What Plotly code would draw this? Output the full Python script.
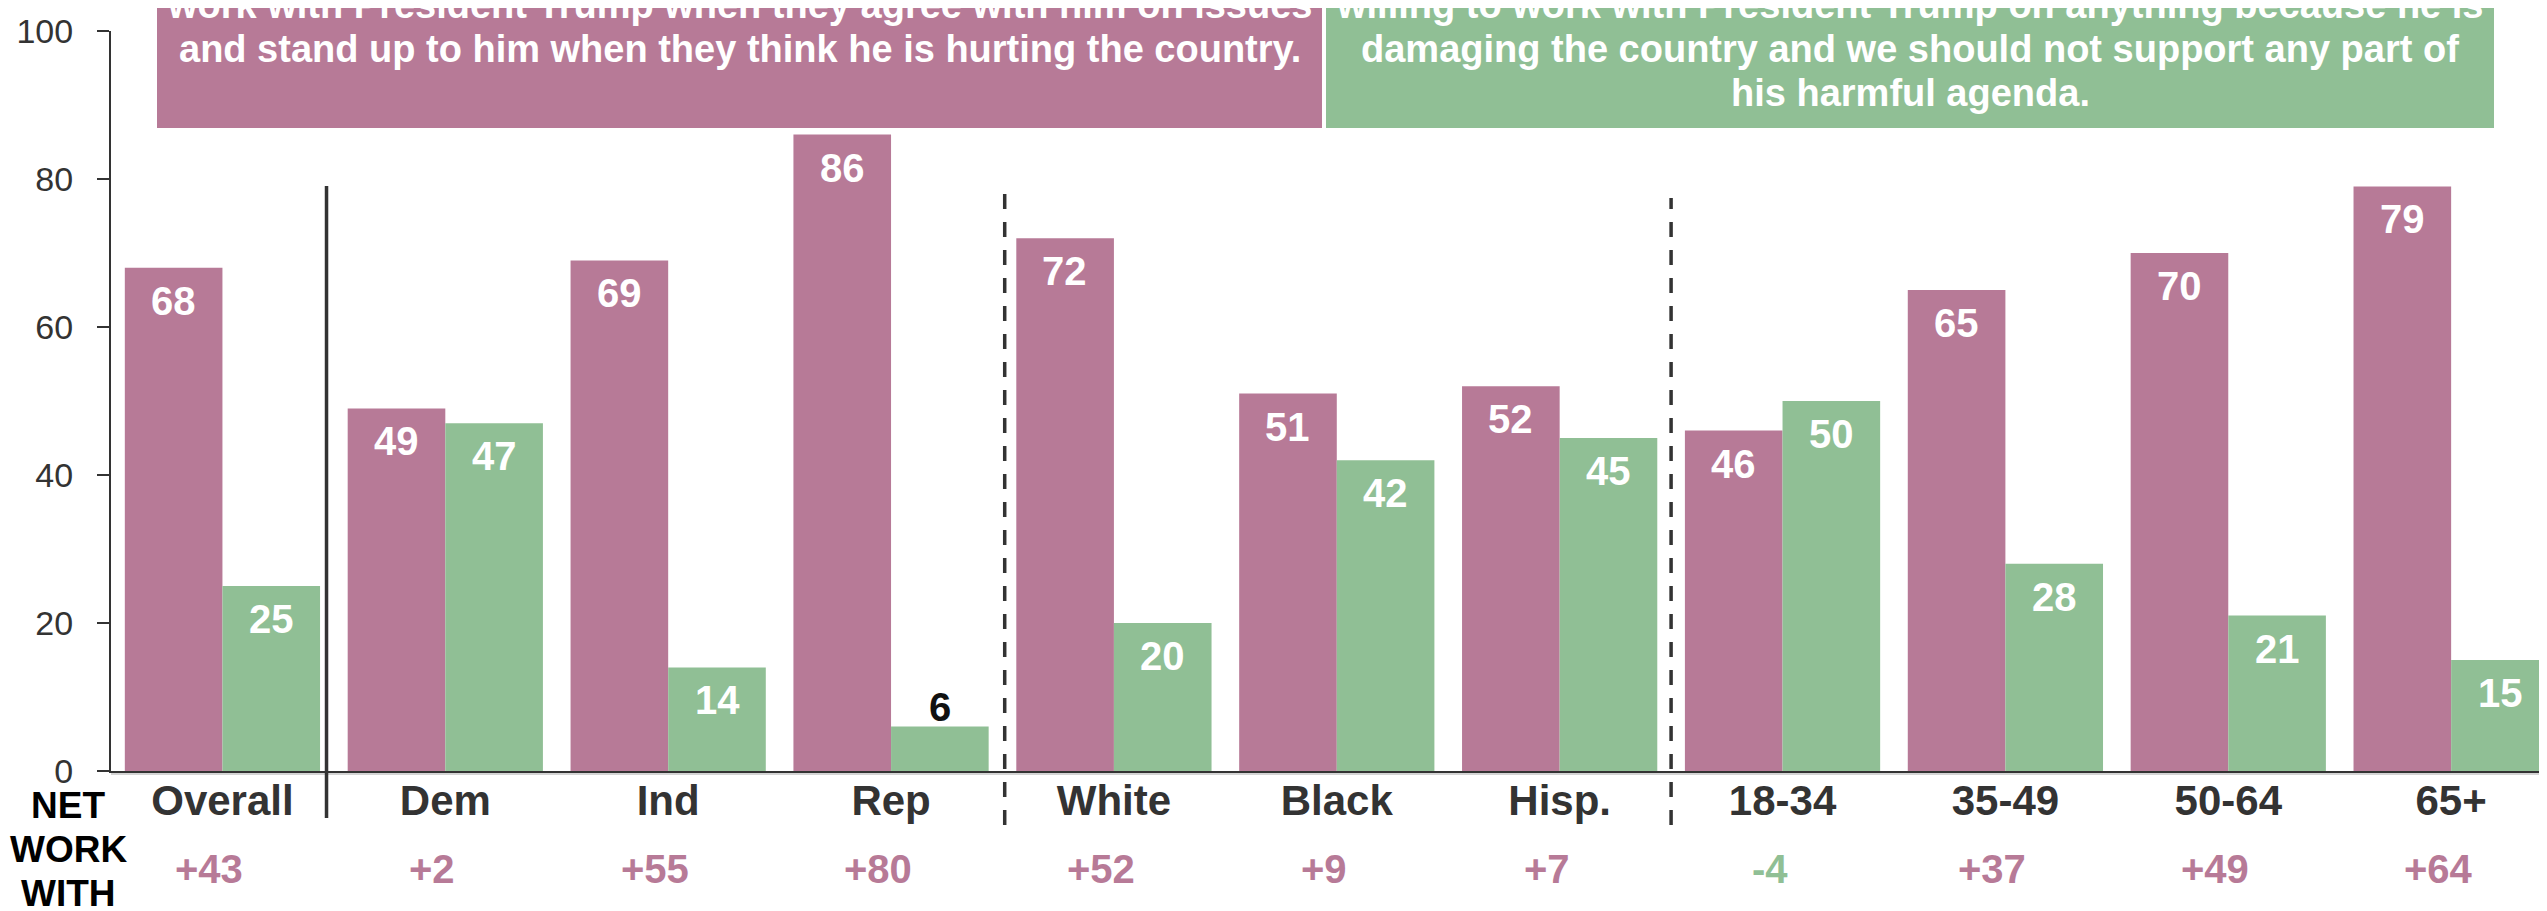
import plotly.graph_objects as go

# ── data ──
GROUPS = ["Overall", "Dem", "Ind", "Rep", "White", "Black", "Hisp.", "18-34", "35-49", "50-64", "65+"]
WORK_WITH = [68, 49, 69, 86, 72, 51, 52, 46, 65, 70, 79]
NOT_WORK = [25, 47, 14, 6, 20, 42, 45, 50, 28, 21, 15]
NET = [43, 2, 55, 80, 52, 9, 7, -4, 37, 49, 64]
Y_TICKS = [0, 20, 40, 60, 80, 100]
NET_LABEL = ["NET", "WORK", "WITH"]

TXT_WORK = ["work with President Trump when they agree with him on issues",
            "and stand up to him when they think he is hurting the country."]
TXT_NOT = ["willing to work with President Trump on anything because he is",
           "damaging the country and we should not support any part of",
           "his harmful agenda."]

# ── style ──
MAG = "#B77A97"; GRN = "#90BF95"; INK = "#333333"; BLACK = "#111111"
FONT = "Liberation Sans, Arial, sans-serif"
W, H = 2547, 911
L, R, T, B = 103, 0, 23, 148
PLOT_H = H - T - B
OFF = 49  # px from group centre to each bar centre


def py(pixel):  # figure pixel (from top) -> paper y
    return (H - B - pixel) / PLOT_H


def px(pixel):  # figure pixel (from left) -> paper x
    return (pixel - L) / (W - L - R)


fig = go.Figure()
fig.add_bar(x=GROUPS, y=WORK_WITH, marker_color=MAG, marker_line_width=0, name="Work with")
fig.add_bar(x=GROUPS, y=NOT_WORK, marker_color=GRN, marker_line_width=0, name="Not work with")

ann = []
for series, shift in ((WORK_WITH, -OFF), (NOT_WORK, OFF)):
    for g, v in zip(GROUPS, series):
        inside = v >= 10
        ann.append(dict(x=g, y=v, xref="x", yref="y", text=f"<b>{v}</b>", showarrow=False,
                        xshift=shift, yanchor="top" if inside else "bottom",
                        yshift=-9 if inside else -4,
                        font=dict(family=FONT, size=40, color="white" if inside else BLACK)))

for g, n in zip(GROUPS, NET):
    ann.append(dict(x=g, y=py(861), xref="x", yref="paper", text=f"<b>{n:+d}</b>", showarrow=False,
                    xshift=-13, yanchor="middle",
                    font=dict(family=FONT, size=40, color=MAG if n >= 0 else GRN)))

for word, ypix in zip(NET_LABEL, (797, 841, 885)):
    ann.append(dict(x=0, y=py(ypix), xref="paper", yref="paper", xshift=-43, xanchor="center",
                    yanchor="middle", text=f"<b>{word}</b>", showarrow=False,
                    font=dict(family=FONT, size=37, color="#000000")))

# statement boxes above the bars, one annotation per text line
LINE_Y = [-3, 41, 85]
for lines, x0, x1 in ((TXT_WORK, 149, 1314), (TXT_NOT, 1318, 2486)):
    for line, ypix in zip(lines, LINE_Y):
        ann.append(dict(x=px((x0 + x1) / 2), y=py(ypix), xref="paper", yref="paper",
                        xanchor="center", yanchor="middle", text=f"<b>{line}</b>", showarrow=False,
                        font=dict(family=FONT, size=38, color="white")))

BOX_BOTTOM = py(120)
shapes = [
    dict(type="rect", xref="paper", yref="paper", x0=px(149), x1=px(1314), y0=BOX_BOTTOM, y1=py(-10),
         fillcolor=MAG, line_width=0, layer="below"),
    dict(type="rect", xref="paper", yref="paper", x0=px(1318), x1=px(2486), y0=BOX_BOTTOM, y1=py(-10),
         fillcolor=GRN, line_width=0, layer="below"),
    # faint shadow under the baseline
    dict(type="line", xref="paper", yref="paper", x0=0, x1=1, y0=py(766), y1=py(766),
         line=dict(color="#d4d4d4", width=2)),
    # group separators
    dict(type="line", xref="x", yref="paper", x0=0.467, x1=0.467, y0=py(810), y1=py(178),
         line=dict(color=INK, width=3.5)),
    dict(type="line", xref="x", yref="paper", x0=3.51, x1=3.51, y0=py(817), y1=py(185),
         line=dict(color=INK, width=3.5, dash="15px,13px")),
    dict(type="line", xref="x", yref="paper", x0=6.5, x1=6.5, y0=py(817), y1=py(190),
         line=dict(color=INK, width=3.5, dash="15px,13px")),
]

fig.update_layout(
    width=W, height=H, margin=dict(l=L, r=R, t=T, b=B),
    paper_bgcolor="white", plot_bgcolor="white",
    barmode="group", bargap=0.124, bargroupgap=0,
    showlegend=False, annotations=ann, shapes=shapes,
    font=dict(family=FONT, color=INK),
)
fig.update_xaxes(type="category", range=[-0.5, 10.466], tickvals=GROUPS,
                 ticktext=[f"<b>{g}</b>" for g in GROUPS], ticks="", ticklabelstandoff=-8,
                 tickfont=dict(family=FONT, size=42, color=INK),
                 showline=True, linecolor=INK, linewidth=2, showgrid=False, zeroline=False)
fig.update_yaxes(range=[0, 100], tickvals=Y_TICKS, ticks="outside", ticklen=12, tickwidth=2,
                 tickcolor=INK, ticklabelstandoff=17, tickfont=dict(family=FONT, size=34, color=INK),
                 showline=True, linecolor=INK, linewidth=2, showgrid=False, zeroline=False)

fig.write_html("out.html")
